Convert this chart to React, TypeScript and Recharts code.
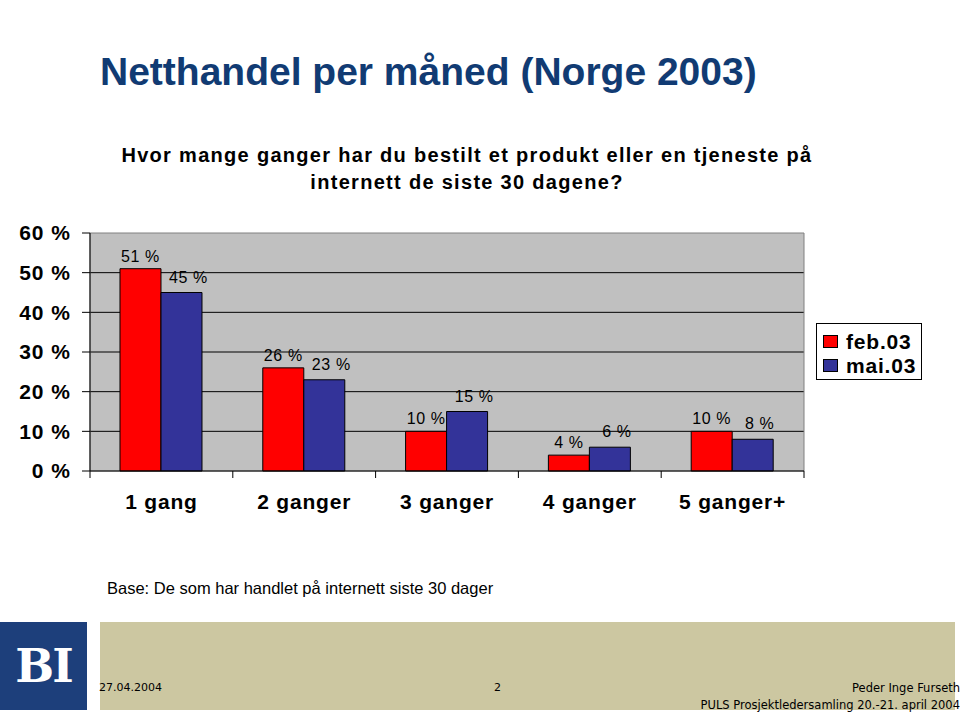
import React from 'react';
import { BarChart, Bar, XAxis, YAxis, CartesianGrid, Legend, LabelList, ReferenceArea } from 'recharts';

const categories = ['1 gang', '2 ganger', '3 ganger', '4 ganger', '5 ganger+'];
const feb03 = [51, 26, 10, 4, 10];
const mai03 = [45, 23, 15, 6, 8];
const yTicks = [0, 10, 20, 30, 40, 50, 60];
const gridValues = [10, 20, 30, 40, 50];
const seriesNames = ['feb.03', 'mai.03'];
const seriesColors = ['#FF0000', '#333399'];

const data = categories.map((c, i) => ({ category: c, feb: feb03[i], mai: mai03[i] }));

const CHART_W = 960;
const CHART_H = 540;
const MARGIN = { top: 233, right: 156, left: 0, bottom: 0 };
const Y_AXIS_W = 90;
const X_AXIS_H = 69;
const PLOT_W = CHART_W - MARGIN.left - MARGIN.right - Y_AXIS_W;
const HALF_BAND = PLOT_W / categories.length / 2;

const ARIAL = '"Liberation Sans", Arial, Helvetica, sans-serif';
const VERDANA = '"DejaVu Sans", Verdana, sans-serif';

const XTick = (props: any) => {
  const { x, y, payload, index } = props;
  const last = index === categories.length - 1;
  return (
    <g>
      <line x1={x - HALF_BAND} y1={y} x2={x - HALF_BAND} y2={y + 7} stroke="#000" />
      {last && <line x1={x + HALF_BAND} y1={y} x2={x + HALF_BAND} y2={y + 7} stroke="#000" />}
      <text x={x} y={y + 38} textAnchor="middle" fontFamily={ARIAL} fontWeight="bold" fontSize={21} letterSpacing={0.8} fill="#000">
        {payload.value}
      </text>
    </g>
  );
};

const makeLabel = (dx: number, dy: number) => (props: any) => {
  const { x, y, width, value } = props;
  return (
    <text x={x + width / 2 + dx} y={y - dy} textAnchor="middle" fontFamily={ARIAL} fontSize={16} letterSpacing={0.6} fill="#000">
      {`${value} %`}
    </text>
  );
};

const LegendBox = (props: any) => {
  const { payload } = props;
  return (
    <div style={{ border: '1px solid #000', background: '#fff', width: 106, height: 57, boxSizing: 'border-box', padding: '5px 0 0 6px' }}>
      {(payload || []).map((p: any) => (
        <div key={p.value} style={{ display: 'flex', alignItems: 'center', height: 23, marginTop: 1 }}>
          <div style={{ width: 15, height: 13, background: p.color, border: '1px solid #000', boxSizing: 'border-box', marginRight: 8 }} />
          <span style={{ fontFamily: ARIAL, fontWeight: 'bold', fontSize: 21, letterSpacing: 0.8, color: '#000' }}>{p.value}</span>
        </div>
      ))}
    </div>
  );
};

export default function App() {
  return (
    <div style={{ position: 'fixed', left: 0, top: 0, width: 960, height: 717, background: '#fff', overflow: 'hidden', fontFamily: ARIAL }}>
      <div style={{ position: 'absolute', left: 100, top: 50, fontSize: 39, lineHeight: '44px', fontWeight: 'bold', color: '#113B73', whiteSpace: 'nowrap' }}>
        Netthandel per måned (Norge 2003)
      </div>
      <div style={{ position: 'absolute', left: 0, top: 142, width: 934, textAlign: 'center', fontSize: 20, letterSpacing: 1.3, lineHeight: '27px', fontWeight: 'bold', color: '#000' }}>
        Hvor mange ganger har du bestilt et produkt eller en tjeneste på
        <br />
        internett de siste 30 dagene?
      </div>

      <div style={{ position: 'absolute', left: 0, top: 0 }}>
        <BarChart width={CHART_W} height={CHART_H} data={data} margin={MARGIN} barCategoryGap="21%" barGap={0}>
          <CartesianGrid fill="#C0C0C0" vertical={false} horizontalValues={gridValues} stroke="#000" strokeOpacity={1} />
          <ReferenceArea y1={0} y2={60} fill="none" stroke="#808080" strokeWidth={1} ifOverflow="visible" />
          <XAxis
            dataKey="category"
            height={X_AXIS_H}
            interval={0}
            tickSize={0}
            tickMargin={0}
            tickLine={false}
            axisLine={{ stroke: '#000' }}
            tick={<XTick />}
          />
          <YAxis
            width={Y_AXIS_W}
            domain={[0, 60]}
            ticks={yTicks}
            interval={0}
            tickFormatter={(v: number) => `${v} %`}
            tickSize={8}
            tickMargin={11}
            axisLine={{ stroke: '#000' }}
            tickLine={{ stroke: '#000' }}
            tick={{ fontFamily: ARIAL, fontWeight: 'bold', fontSize: 21, letterSpacing: 1, fill: '#000' }}
          />
          <Legend
            layout="horizontal"
            verticalAlign="middle"
            align="center"
            content={<LegendBox />}
            wrapperStyle={{ position: 'absolute', left: 816, top: 323, width: 106 }}
          />
          <Bar dataKey="feb" name={seriesNames[0]} fill={seriesColors[0]} stroke="#000" strokeWidth={1} isAnimationActive={false}>
            <LabelList dataKey="feb" content={makeLabel(0, 7)} />
          </Bar>
          <Bar dataKey="mai" name={seriesNames[1]} fill={seriesColors[1]} stroke="#000" strokeWidth={1} isAnimationActive={false}>
            <LabelList dataKey="mai" content={makeLabel(7, 10)} />
          </Bar>
        </BarChart>
      </div>

      <div style={{ position: 'absolute', left: 107, top: 578, fontSize: 16.5, lineHeight: '20px', color: '#000', whiteSpace: 'nowrap' }}>
        Base: De som har handlet på internett siste 30 dager
      </div>

      <div style={{ position: 'absolute', left: 0, top: 622, width: 87, height: 88, background: '#1D3F7B', display: 'flex', alignItems: 'center', justifyContent: 'center' }}>
        <span style={{ fontFamily: '"DejaVu Serif", "Liberation Serif", serif', fontWeight: 'bold', fontSize: 46, color: '#fff', letterSpacing: -2, lineHeight: 1 }}>BI</span>
      </div>
      <div style={{ position: 'absolute', left: 100, top: 622, width: 855, height: 88, background: '#CCC7A1' }} />
      <div style={{ position: 'absolute', left: 99, top: 681, fontFamily: VERDANA, fontSize: 11, lineHeight: '14px', color: '#000' }}>27.04.2004</div>
      <div style={{ position: 'absolute', left: 494, top: 681, fontFamily: VERDANA, fontSize: 11, lineHeight: '14px', color: '#000' }}>2</div>
      <div style={{ position: 'absolute', right: 0, top: 681, fontFamily: VERDANA, fontSize: 11.5, lineHeight: '14px', color: '#000', textAlign: 'right', whiteSpace: 'nowrap' }}>Peder Inge Furseth</div>
      <div style={{ position: 'absolute', right: 0, top: 698, fontFamily: VERDANA, fontSize: 11.5, lineHeight: '14px', color: '#000', textAlign: 'right', whiteSpace: 'nowrap' }}>PULS Prosjektledersamling 20.-21. april 2004</div>
    </div>
  );
}
